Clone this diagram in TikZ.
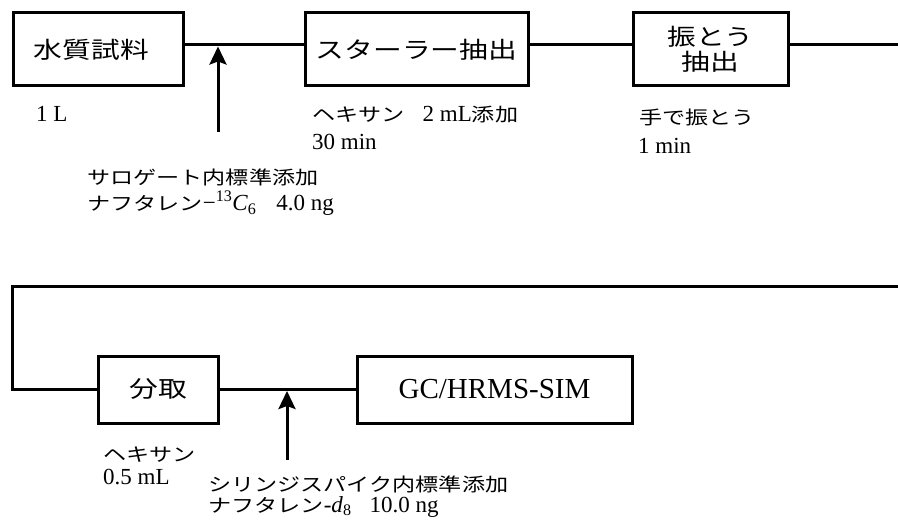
\documentclass[tikz,border=0pt]{standalone}
\usepackage{fontspec}
\setmainfont{Liberation Serif}
\newfontfamily\jpfont[FakeStretch=1.25]{Noto Sans CJK JP}
\usetikzlibrary{arrows.meta}
\newcommand\myboxlat{\fontsize{29}{31}\selectfont}
\newcommand\myboxjp{\fontsize{23}{25}\selectfont\jpfont}
\newcommand\mylab{\fontsize{23}{25}\selectfont}
\newcommand\myjp{\fontsize{18.5}{22}\selectfont\jpfont}
\tikzset{
  procbox/.style={draw, line width=3pt, inner sep=0pt, align=center},
  conn/.style={line width=3pt},
  addarrow/.style={line width=3pt, -{Stealth[length=18pt,width=17pt,inset=3pt]}},
  lbl/.style={anchor=base west, inner sep=0pt, font=\mylab},
}
\begin{document}
\begin{tikzpicture}[x=1pt,y=-1pt]
\useasboundingbox (0,0) rectangle (898,524);
% boxes
\node[procbox, minimum width=170pt, minimum height=73pt, font=\myboxjp] (b1) at (98.5,49.5) {水質試料\hspace{14pt}};
\node[procbox, minimum width=223pt, minimum height=73pt, font=\myboxjp] (b2) at (416.5,49.5) {スターラー抽出};
\node[procbox, minimum width=155pt, minimum height=73pt, font=\myboxjp] (b3) at (710.5,49.5) {振とう\\抽出};
\node[procbox, minimum width=120pt, minimum height=67pt, font=\myboxjp] (b4) at (158,389.5) {分取};
\node[procbox, minimum width=275pt, minimum height=67pt, font=\myboxlat] (b5) at (494.5,389.5) {GC/HRMS-SIM};
% helper coordinates
\coordinate (e1) at (898,45);
\coordinate (e2) at (898,286);
\coordinate (c1) at (12,286);
\coordinate (a1s) at (218,132);
\coordinate (a1e) at (218,46.5);
\coordinate (a2s) at (287,460);
\coordinate (a2e) at (287,391);
% connectors
\draw[conn] (b1.east |- e1) -- (b2.west |- e1);
\draw[conn] (b2.east |- e1) -- (b3.west |- e1);
\draw[conn] (b3.east |- e1) -- (e1);
\draw[conn] (e2) -- (c1) |- (b4.west);
\draw[conn] (b4.east) -- (b5.west);
\draw[addarrow] (a1s) -- (a1e);
\draw[addarrow] (a2s) -- (a2e);
% labels
\node[lbl] (t1) at (36,122) {1 L};
\node[lbl] (t2) at (312,122) {{\myjp ヘキサン}\hspace{18pt}2 mL{\myjp 添加}};
\node[lbl] (t3) at (312,150) {30 min};
\node[lbl] (t4) at (87,185) {\myjp サロゲート内標準添加};
\node[lbl] (t5) at (87,211) {{\myjp ナフタレン}−\textsuperscript{13}\textit{C}\textsubscript{6}\hspace{20pt}4.0 ng};
\node[lbl] (t6) at (639,125) {\myjp 手で振とう};
\node[lbl] (t7) at (638,154) {1 min};
\node[lbl] (t8) at (103,461) {\myjp ヘキサン};
\node[lbl] (t9) at (103,484) {0.5 mL};
\node[lbl] (t10) at (208,491) {\myjp シリンジスパイク内標準添加};
\node[lbl] (t11) at (208,512) {{\myjp ナフタレン}-\textit{d}\textsubscript{8}\hspace{18pt}10.0 ng};
\end{tikzpicture}
\end{document}
